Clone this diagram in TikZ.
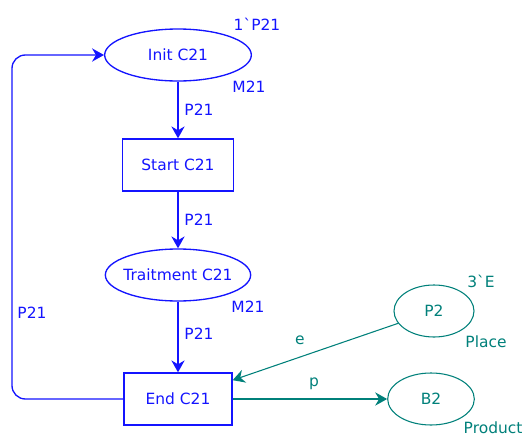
\documentclass[tikz,border=0pt]{standalone}
\usepackage{fontspec}
\setmainfont{DejaVu Sans}[Ligatures=TeXOff]
\usetikzlibrary{arrows.meta,shapes.geometric}
\definecolor{cpnblue}{RGB}{20,20,255}
\definecolor{cpnteal}{RGB}{0,128,122}

\begin{document}
\begin{tikzpicture}[x=0.75pt,y=-0.75pt,
    font=\fontsize{11.6}{13}\selectfont,
    place/.style={ellipse,draw,minimum height=39pt,inner sep=0pt},
    trans/.style={rectangle,draw,minimum height=39pt,inner sep=0pt},
    blueline/.style={cpnblue,line width=1pt},
    tealline/.style={cpnteal,line width=0.8pt},
    arc/.style={-{Stealth[length=9pt,width=10pt,inset=3pt]}}]
    \useasboundingbox (0,0) rectangle (526,436);

    \begin{scope}[every node/.style={text=cpnblue},every path/.style={blueline}]
        % places and transitions
        \node[place,minimum width=110pt] (init) at (178,55) {Init C21};
        \node[trans,minimum width=83pt] (start) at (178,165) {Start C21};
        \node[place,minimum width=109pt,inner xsep=-7pt] (traitment) at (178,275) {Traitment C21};
        \node[trans,minimum width=81pt] (end) at (178,399) {End C21};

        % inscriptions
        \node (initmark) at (257,24) {1`P21};
        \node (inittype) at (249,87) {M21};
        \node (traittype) at (248,307) {M21};

        % arcs
        \draw[arc] (init) -- node[right,xshift=1pt] (lblstart) {P21} (start);
        \draw[arc] (start) -- node[right,xshift=1pt] (lbltrait) {P21} (traitment);
        \draw[arc] (traitment) -- node[right,xshift=1pt,pos=0.45] (lblend) {P21} (end);

        % loop back
        \coordinate (loopbl) at (12,399);
        \coordinate (looptl) at (12,55);
        \draw[arc,rounded corners=10pt] (end) -- (loopbl) -- (looptl) -- (init);
        \node (lblloop) at (32,313) {P21};
    \end{scope}

    \begin{scope}[every node/.style={text=cpnteal},every path/.style={tealline}]
        % places
        \node[place,minimum width=60pt] (ptwo) at (434,311) {P2};
        \node[place,minimum width=65pt] (btwo) at (431,399) {B2};
        \node (ptwomark) at (481,281) {3`E};
        \node (ptwotype) at (486,342) {Place};
        \node[anchor=east,inner sep=0pt] (btwotype) at (523,428) {Product};

        % arcs
        \draw[arc] (ptwo) -- (end.19);
        \node (lble) at (300,340) {e};
        \draw[arc] (end) -- (btwo);
        \node (lblp) at (314,384) {p};
    \end{scope}
\end{tikzpicture}
\end{document}
